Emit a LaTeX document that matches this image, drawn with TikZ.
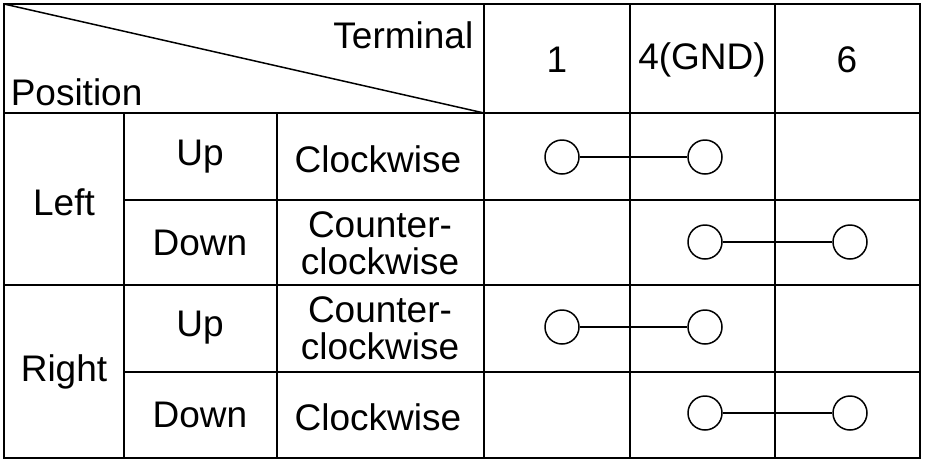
\documentclass[tikz,border=0pt]{standalone}
\usepackage{fontspec}
\setmainfont{Liberation Sans}
\begin{document}
\begin{tikzpicture}[x=1pt,y=-1pt,line width=1.5pt,
  t/.style={font=\fontsize{37}{37}\selectfont,align=center,inner sep=0pt},
  c/.style={circle,draw,line width=1.5pt,minimum size=34pt,inner sep=0pt,fill=white}]
\useasboundingbox (0,0) rectangle (925,464);
\draw (4,4) rectangle (920,458);
\draw (4,113) -- (920,113);
\draw (484,4) -- (484,458);
\draw (630,4) -- (630,458);
\draw (775,4) -- (775,458);
\draw (4,285) -- (920,285);
\draw (124,200) -- (920,200);
\draw (124,372) -- (920,372);
\draw (124,113) -- (124,458);
\draw (277,113) -- (277,458);
\draw (4,4) -- (484,113);
\node[t,anchor=east] (term) at (474,35) {Terminal};
\node[t,anchor=west] (pos) at (10,92) {Position};
\node[t] (h1) at (557,60) {1};
\node[t] (h4) at (702,60) {4(GND)};
\node[t] (h6) at (847,60) {6};
\node[t] (l) at (64,202) {Left};
\node[t] (r) at (64,372) {Right};
\node[t] (u1) at (200,157) {Up};
\node[t] (d1) at (200,243) {Down};
\node[t] (u2) at (200,328) {Up};
\node[t] (d2) at (200,415) {Down};
\node[t] (s1) at (378,159) {Clockwise};
\node[t] (s2) at (380,243) {\fontsize{37}{31}\selectfont Counter-\\clockwise};
\node[t] (s3) at (380,328) {\fontsize{37}{31}\selectfont Counter-\\clockwise};
\node[t] (s4) at (378,417) {Clockwise};
\node[c] (a1) at (562,157) {}; \node[c] (a2) at (705,157) {};
\node[c] (b1) at (705,242) {}; \node[c] (b2) at (850,242) {};
\node[c] (c1) at (562,327) {}; \node[c] (c2) at (705,327) {};
\node[c] (e1) at (705,413) {}; \node[c] (e2) at (850,413) {};
\draw (a1) -- (a2); \draw (b1) -- (b2); \draw (c1) -- (c2); \draw (e1) -- (e2);
\end{tikzpicture}
\end{document}
